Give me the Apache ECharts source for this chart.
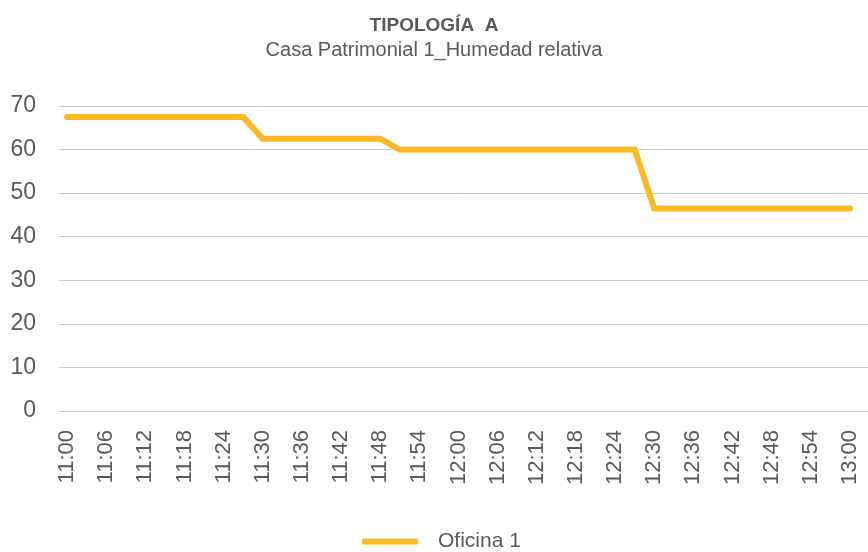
<!DOCTYPE html>
<html>
<head>
<meta charset="utf-8">
<script src="https://cdn.jsdelivr.net/npm/echarts@6/dist/echarts.min.js"></script>
<style>
html,body{margin:0;padding:0;background:#fff;}
#chart{width:868px;height:552px;}
</style>
</head>
<body>
<div id="chart"></div>
<script>
// Categories: every 3 minutes from 11:00 to 13:00
const times = ["11:00","11:03","11:06","11:09","11:12","11:15","11:18","11:21","11:24","11:27",
  "11:30","11:33","11:36","11:39","11:42","11:45","11:48","11:51","11:54","11:57",
  "12:00","12:03","12:06","12:09","12:12","12:15","12:18","12:21","12:24","12:27",
  "12:30","12:33","12:36","12:39","12:42","12:45","12:48","12:51","12:54","12:57","13:00"];
// Humedad relativa (%) - Oficina 1
const oficina1 = [67.5,67.5,67.5,67.5,67.5,67.5,67.5,67.5,67.5,67.5,
  62.5,62.5,62.5,62.5,62.5,62.5,62.5,60,60,60,
  60,60,60,60,60,60,60,60,60,60,
  46.5,46.5,46.5,46.5,46.5,46.5,46.5,46.5,46.5,46.5,46.5];
const seriesName = "Oficina 1";
const titleText = "TIPOLOGÍA  A";
const subtitleText = "Casa Patrimonial 1_Humedad relativa";
const yMin = 0, yMax = 70, yStep = 10;

const FONT = '"Liberation Sans", Arial, sans-serif';
const TXT = '#595959';
const chart = echarts.init(document.getElementById('chart'), null, {renderer: 'canvas'});
chart.setOption({
  animation: false,
  backgroundColor: '#ffffff',
  textStyle: {fontFamily: FONT},
  title: [
    {text: titleText, left: 'center', top: 11,
     textStyle: {fontFamily: FONT, fontSize: 19, fontWeight: 'bold', color: TXT}},
    {text: subtitleText, left: 'center', top: 35,
     textStyle: {fontFamily: FONT, fontSize: 20, fontWeight: 'normal', color: TXT}}
  ],
  legend: {
    data: [seriesName],
    left: 362, top: 531, padding: 0,
    itemWidth: 56, itemHeight: 6,
    icon: 'roundRect',
    textStyle: {fontFamily: FONT, fontSize: 21, color: TXT, padding: [0,0,0,15]}
  },
  grid: [
    {left: 59, right: 0, top: 106, bottom: 141},
    {left: 67, right: 18, top: 106, bottom: 141}
  ],
  xAxis: [
    {type: 'value', gridIndex: 0, show: false, min: 0, max: 1},
    {type: 'category', gridIndex: 1, data: times, boundaryGap: false,
     axisLine: {show: false}, axisTick: {show: false},
     axisLabel: {rotate: 90, interval: 1, margin: 19, fontSize: 22, color: TXT, fontFamily: FONT}}
  ],
  yAxis: [
    {type: 'value', gridIndex: 0, min: yMin, max: yMax, interval: yStep,
     axisLine: {show: false}, axisTick: {show: false},
     axisLabel: {margin: 23, fontSize: 23, color: TXT, fontFamily: FONT, padding: [0,0,9,0]},
     splitLine: {show: true, lineStyle: {color: '#c8c8c8', width: 1}}},
    {type: 'value', gridIndex: 1, min: yMin, max: yMax, interval: yStep, show: false,
     splitLine: {show: false}}
  ],
  series: [{
    name: seriesName, type: 'line', xAxisIndex: 1, yAxisIndex: 1,
    data: oficina1, showSymbol: false, symbol: 'none',
    lineStyle: {color: '#FBB927', width: 6, cap: 'round', join: 'miter'},
    itemStyle: {color: '#FBB927'}
  }]
});
</script>
</body>
</html>
